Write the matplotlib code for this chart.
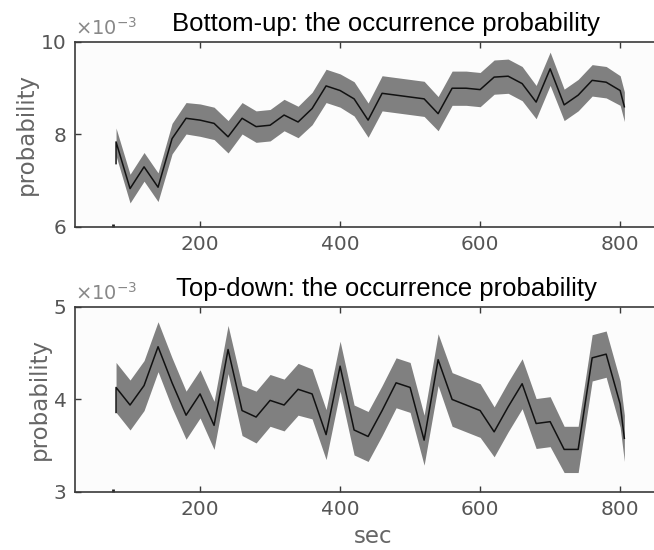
import matplotlib.pyplot as plt
import numpy as np

# time axis (sec); first and last samples repeat/close up, as in the figure
sec = [80, 80, 100, 120, 140, 160, 180, 200, 220, 240, 260, 280, 300, 320, 340,
       360, 380, 400, 420, 440, 460, 480, 500, 520, 540, 560, 580, 600, 620,
       640, 660, 680, 700, 720, 740, 760, 780, 800, 806]

# bottom-up occurrence probability (x 1e-3)
bu_mean = [7.37, 7.84, 6.83, 7.30, 6.86, 7.91, 8.35, 8.31, 8.24, 7.95, 8.35, 8.17,
           8.20, 8.42, 8.27, 8.56, 9.05, 8.95, 8.77, 8.31, 8.89, 8.85, 8.81, 8.77,
           8.45, 9.00, 9.00, 8.97, 9.24, 9.26, 9.10, 8.70, 9.42, 8.64, 8.85, 9.17,
           9.13, 8.95, 8.60]
bu_err = [0.30, 0.30, 0.31, 0.31, 0.31, 0.33, 0.34, 0.35, 0.35, 0.35, 0.34, 0.34,
          0.34, 0.34, 0.34, 0.35, 0.36, 0.36, 0.37, 0.37, 0.38, 0.38, 0.38, 0.38,
          0.37, 0.37, 0.37, 0.37, 0.37, 0.37, 0.37, 0.36, 0.36, 0.34, 0.34, 0.34,
          0.34, 0.32, 0.32]

# top-down occurrence probability (x 1e-3)
td_mean = [3.86, 4.13, 3.94, 4.15, 4.57, 4.18, 3.83, 4.06, 3.72, 4.54, 3.88, 3.81,
           3.99, 3.94, 4.11, 4.06, 3.62, 4.36, 3.67, 3.60, 3.88, 4.18, 4.13, 3.56,
           4.43, 4.00, 3.94, 3.88, 3.65, 3.92, 4.17, 3.74, 3.76, 3.46, 3.46, 4.45,
           4.49, 3.95, 3.58]
td_err = [0.27, 0.27, 0.27, 0.27, 0.27, 0.27, 0.26, 0.26, 0.26, 0.26, 0.27, 0.28,
          0.28, 0.28, 0.28, 0.27, 0.27, 0.27, 0.27, 0.27, 0.27, 0.27, 0.27, 0.27,
          0.28, 0.29, 0.29, 0.29, 0.27, 0.27, 0.27, 0.27, 0.27, 0.25, 0.25, 0.25,
          0.25, 0.25, 0.25]

panels = [
    ("Bottom-up: the occurrence probability", bu_mean, bu_err, (6, 10), [6, 8, 10]),
    ("Top-down: the occurrence probability", td_mean, td_err, (3, 5), [3, 4, 5]),
]

tick_grey = '#555555'
spine_col = '#3a3a3a'

fig = plt.figure(figsize=(6.54, 5.5), dpi=100)
axes_pos = [[0.1147, 0.5873, 0.91, 0.3364],
            [0.1147, 0.1055, 0.91, 0.3364]]

x = np.array(sec)
for i, (title, mean, err, ylim, yticks) in enumerate(panels):
    ax = fig.add_axes(axes_pos[i])
    m = np.array(mean)
    e = np.array(err)
    ax.fill_between(x, m - e, m + e, color='#808080', linewidth=0)
    ax.plot(x, m, color='#111111', linewidth=1.1)

    ax.set_xlim(21.4, 871.4)
    ax.set_ylim(*ylim)
    ax.set_xticks([200, 400, 600, 800])
    ax.set_xticks([76], minor=True)
    ax.set_yticks(yticks)
    ax.set_facecolor('#fcfcfc')
    for s in ax.spines.values():
        s.set_color(spine_col)
        s.set_linewidth(1.2)
    ax.tick_params(direction='in', length=4, width=1, color=spine_col,
                   labelcolor=tick_grey, labelsize=14.5, top=True, right=True,
                   pad=6)
    ax.tick_params(which='minor', direction='in', length=2, width=2,
                   color='#222222', top=False)
    ax.set_ylabel('probability', fontsize=16.5, color='#666666', labelpad=2)
    ax.text(0.0, 1.015, r'$\times10^{-3}$', transform=ax.transAxes,
            fontsize=14, color='#888888', ha='left', va='bottom')
    ax.set_title(title, fontsize=18.5, family='Liberation Sans', color='black',
                 x=(386 - 75) / (0.91 * 654), pad=8)

ax.set_xlabel('sec', fontsize=16.5, color='#666666', labelpad=4)

plt.savefig('out.png', dpi=100)
